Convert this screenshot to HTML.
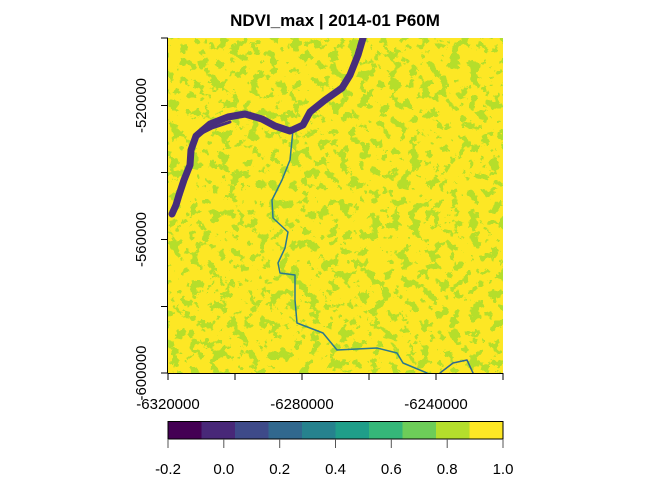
<!DOCTYPE html>
<html><head><meta charset="utf-8"><style>
html,body{margin:0;padding:0;background:#fff;}
svg{display:block;font-family:"Liberation Sans",sans-serif;}
</style></head><body>
<svg width="672" height="480" viewBox="0 0 672 480" xmlns="http://www.w3.org/2000/svg">
<defs>
<filter id="speck" x="0" y="0" width="100%" height="100%" color-interpolation-filters="sRGB">
<feTurbulence type="fractalNoise" baseFrequency="0.1" numOctaves="5" seed="7" result="n"/>
<feColorMatrix in="n" type="matrix" values="0 0 0 0 0.71  0 0 0 0 0.87  0 0 0 0 0.17  1.6 0 0 0 -0.33"/>
<feComponentTransfer><feFuncA type="discrete" tableValues="0 0 0 0 0 0 1 1 1 1"/></feComponentTransfer>
</filter>
<clipPath id="pc"><rect x="168" y="38" width="335" height="335"/></clipPath>
</defs>
<text x="335" y="26" text-anchor="middle" font-size="17" font-weight="bold">NDVI_max | 2014-01 P60M</text>
<g clip-path="url(#pc)">
<rect x="168" y="38" width="335" height="335" fill="#FDE725"/>
<rect x="168" y="38" width="335" height="335" filter="url(#speck)"/>
<g fill="none" stroke-linecap="round" stroke-linejoin="round">
<polyline stroke="#2A788E" stroke-width="1.5" points="293,130 290,160 282,180 272,200 273,218 288,232 285,248 278,263 280,273 295,275 295,300 297,323 323,333 337,350 377,348 397,353 403,363 427,373"/>
<polyline stroke="#31688E" stroke-width="1.5" points="440,373 453,363 467,360 473,373"/>
<polyline stroke="#472D7B" stroke-width="7" points="363,38 358,55 350,75 342,88 325,100 310,112 303,125 290,131 275,126 262,119 245,114 228,117 210,124 196,136 191,150 190,165 184,180 179,195 176,205 172,214"/>
<polyline stroke="#472D7B" stroke-width="3" points="196,136 212,128 230,122"/>
</g>
</g>
<g stroke="#000" stroke-width="1" fill="none">
<line x1="168" y1="373.5" x2="503" y2="373.5"/>
<path d="M168,373v7M235,373v7M302,373v7M369,373v7M436,373v7M503,373v7"/>
<line x1="167.5" y1="38" x2="167.5" y2="373"/>
<path d="M168,38h-7M168,105.5h-7M168,172.5h-7M168,239.5h-7M168,306.5h-7M168,373h-7"/>
</g>
<g font-size="15" text-anchor="middle">
<text x="168" y="409">-6320000</text><text x="302" y="409">-6280000</text><text x="436" y="409">-6240000</text>
<text transform="translate(146,105.5) rotate(-90)">-520000</text>
<text transform="translate(146,239.5) rotate(-90)">-560000</text>
<text transform="translate(146,373) rotate(-90)">-600000</text>
</g>
<g>
<rect x="168" y="421.5" width="33.5" height="17.5" fill="#440154"/>
<rect x="201.5" y="421.5" width="33.5" height="17.5" fill="#482878"/>
<rect x="235" y="421.5" width="33.5" height="17.5" fill="#3E4A89"/>
<rect x="268.5" y="421.5" width="33.5" height="17.5" fill="#31688E"/>
<rect x="302" y="421.5" width="33.5" height="17.5" fill="#26828E"/>
<rect x="335.5" y="421.5" width="33.5" height="17.5" fill="#1F9E89"/>
<rect x="369" y="421.5" width="33.5" height="17.5" fill="#35B779"/>
<rect x="402.5" y="421.5" width="33.5" height="17.5" fill="#6DCD59"/>
<rect x="436" y="421.5" width="33.5" height="17.5" fill="#B4DE2C"/>
<rect x="469.5" y="421.5" width="33.5" height="17.5" fill="#FDE725"/>
<rect x="168" y="421.5" width="335" height="17.5" fill="none" stroke="#000" stroke-width="1"/>
<path d="M168,439v9M223.8,439v9M279.7,439v9M335.5,439v9M391.3,439v9M447.2,439v9M503,439v9" stroke="#555" stroke-width="1"/>
</g>
<g font-size="15" text-anchor="middle">
<text x="168" y="474">-0.2</text><text x="223.8" y="474">0.0</text><text x="279.7" y="474">0.2</text><text x="335.5" y="474">0.4</text><text x="391.3" y="474">0.6</text><text x="447.2" y="474">0.8</text><text x="503" y="474">1.0</text>
</g>
</svg>
</body></html>
